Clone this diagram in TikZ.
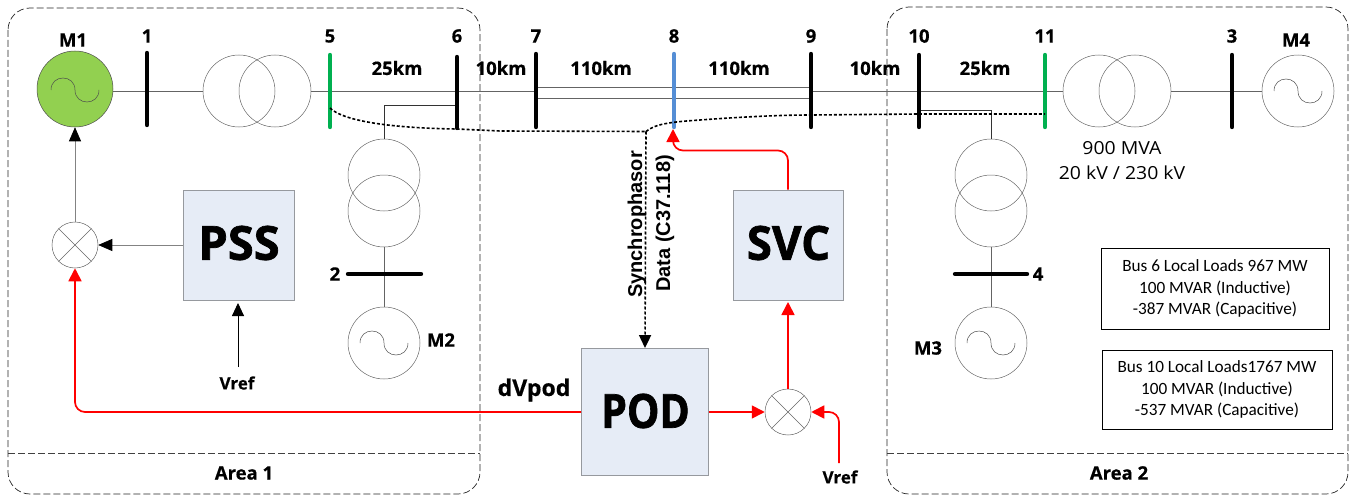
\documentclass[tikz,border=0pt]{standalone}
\usepackage{fontspec}
\setmainfont[BoldFeatures={FakeBold=0.5}]{Open Sans}
\newfontfamily\heavyfont[BoldFeatures={FakeBold=1.5}]{Open Sans}
\newfontfamily\arialfont{Liberation Sans}
\newfontfamily\calfont{Carlito}
\usetikzlibrary{arrows.meta,calc}
\definecolor{boxfill}{RGB}{230,236,246}
\definecolor{boxline}{RGB}{150,153,158}
\definecolor{gline}{RGB}{100,100,100}
\definecolor{mgreen}{RGB}{146,208,80}
\definecolor{bgreen}{RGB}{0,176,80}
\definecolor{bblue}{RGB}{85,142,213}
\tikzset{
  x=1pt,y=-1pt,
  area/.style={draw=black!85,dash pattern=on 7pt off 3pt,line width=.7pt,rounded corners=22pt},
  divider/.style={draw=black!75,dash pattern=on 7pt off 3pt,line width=.7pt},
  wire/.style={draw=gline,line width=.8pt},
  thin wire/.style={draw=black!80,line width=.7pt},
  bus/.style={line width=4.4pt,line cap=round},
  busblack/.style={bus,draw=black},
  circ/.style={circle,draw=black!60,line width=.5pt,inner sep=0pt,minimum size=72pt},
  sumj/.style={circle,draw=black!60,line width=.5pt,inner sep=0pt,minimum size=46pt},
  ctrl/.style={draw=boxline,fill=boxfill,line width=.9pt,inner sep=0pt},
  ctrltext/.style={inner sep=0pt,font=\heavyfont\bfseries\fontsize{47}{49}\selectfont},
  lab/.style={font=\bfseries\fontsize{18.5}{20}\selectfont,inner sep=0pt},
  note/.style={draw=black,line width=.9pt,align=center,inner sep=0pt,font=\calfont\fontsize{17.2}{21.5}\selectfont},
  redl/.style={draw=red,line width=1.7pt,rounded corners=10pt,-{Triangle[length=13pt,width=13pt]}},
  blk/.style={draw=black,line width=.9pt,-{Triangle[length=13pt,width=12pt]}},
  gry/.style={draw=gline!80,line width=.7pt,-{Triangle[length=14pt,width=12pt,color=black,fill=black]}},
  dot/.style={draw=black,line width=1.6pt,dash pattern=on 3pt off 2pt},
}
\newcommand{\sinewave}[1]{%
  \draw[black!70,line width=.5pt] ($(#1)+(-24,0)$) .. controls ($(#1)+(-24,-16)$) and ($(#1)+(0,-16)$) .. (#1) .. controls ($(#1)+(0,16)$) and ($(#1)+(24,16)$) .. ($(#1)+(24,0)$);}
\newcommand{\crossj}[1]{%
  \draw[black!60,line width=.5pt] (#1.45) -- (#1.225) (#1.135) -- (#1.315);}
\begin{document}
\begin{tikzpicture}
\useasboundingbox (0,0) rectangle (1355,495);
% areas
\draw[area] (8,8) rectangle (480,494);
\draw[area] (887,7) rectangle (1348,494);
\coordinate (d1a) at (8,453); \coordinate (d1b) at (480,453);
\coordinate (d2a) at (887,453); \coordinate (d2b) at (1348,453);
\draw[divider] (d1a) -- (d1b);
\draw[divider] (d2a) -- (d2b);
% generators and transformers
\node[circ,fill=mgreen,draw=black!70,minimum size=76pt] (M1) at (75,89) {};
\node[circ] (M4) at (1298,91) {};
\node[circ] (T1a) at (239,91) {};
\node[circ] (T1b) at (275,91) {};
\node[circ] (T4a) at (1099,91) {};
\node[circ] (T4b) at (1135,91) {};
\node[circ] (T2a) at (384,175) {};
\node[circ] (T2b) at (384,211) {};
\node[circ] (M2) at (384,343) {};
\node[circ] (T3a) at (991,175) {};
\node[circ] (T3b) at (991,211) {};
\node[circ] (M3) at (991,343) {};
\sinewave{75,90}
\sinewave{1298,91}
\sinewave{384,343}
\sinewave{991,343}
% main line
\coordinate (b7) at (536,91); \coordinate (b9) at (811,91);
\coordinate (m1e) at (112.5,91);
\draw[wire] (m1e) -- (T1a.west);
\draw[wire] (T1b.east) -- (b7);
\draw[wire] (b9) -- (T4a.west);
\draw[wire] (T4b.east) -- (M4.west);
% double line
\draw[wire] (536,87) -- (811,87);
\draw[wire] (536,98) -- (811,98);
% branch lines
\draw[thin wire] (457,105) -- (384,105) -- (T2a.north);
\draw[wire] (T2b.south) -- (M2.north);
\draw[thin wire] (919,110.5) -- (991,110.5) -- (T3a.north);
\draw[wire] (T3b.south) -- (M3.north);
% buses
\draw[busblack] (147,53) -- (147,125);
\draw[bus,draw=bgreen] (330,55) -- (330,127);
\draw[busblack] (457,57) -- (457,128);
\draw[busblack] (536,54) -- (536,127);
\draw[bus,draw=bblue] (674,54) -- (674,127);
\draw[busblack] (811,54) -- (811,127);
\draw[busblack] (919,55) -- (919,127);
\draw[bus,draw=bgreen] (1045,55) -- (1045,127);
\draw[busblack] (1232,55) -- (1232,127);
\draw[busblack] (348,274) -- (421,274);
\draw[busblack] (955,274) -- (1027,274);
% dotted signal
\coordinate (dj) at (646,131.5);
\draw[dot] (330,108) .. controls (342,120) and (385,128) .. (457,129) -- (500,131) -- (dj);
\draw[dot] (dj) .. controls (655,124) and (670,122) .. (700,120) .. controls (740,117) and (780,115) .. (811,115) -- (919,114) -- (1045,114);
% control boxes
\node[ctrl,minimum width=111pt,minimum height=110pt] (PSS) at (238.5,245) {};
\node[ctrl,minimum width=110pt,minimum height=110pt] (SVC) at (788,245) {};
\node[ctrl,minimum width=127pt,minimum height=127pt] (POD) at (645,412) {};
\node[ctrltext] at (239,243) {PSS};
\node[ctrltext,xscale=.97] at (788.5,243) {SVC};
\node[ctrltext,xscale=.87] at (645.5,411) {POD};
\node[sumj] (S1) at (75,245) {}; \crossj{S1}
\node[sumj] (S2) at (788,412) {}; \crossj{S2}
\coordinate (V1) at (238,367);
\coordinate (V2) at (839,463);
\coordinate (psb) at (238,303);
\coordinate (svb) at (788,302);
% control connectors
\draw[gry] (S1.north) -- (M1.south);
\draw[gry] (PSS.west) -- (S1.east);
\draw[blk] (V1) -- (psb);
\draw[redl] (POD.west) -- (75,412) -- (S1.south);
\draw[redl] (POD.east) -- (S2.west);
\draw[redl] (S2.north) -- (svb);
\draw[redl] (V2) -- (839,412) -- (S2.east);
\draw[redl] (SVC.north) -- (788,150.5) -- (673,150.5) -- (673,129);
\draw[dot,-{Triangle[length=13pt,width=12pt]}] (dj) -- (POD.north);
% labels
\foreach \t/\x/\y in {M1/73/40, 1/147/36, 5/330/36, 6/457/36, 7/536/36, 8/674/36, 9/811/36, 10/919/36, 11/1045/36, 3/1232/36, M4/1296/40, 2/335/274, 4/1038/274, M2/441/340, M3/928/348, 25km/397/68, 10km/501/68, 110km/601/68, 110km/739/68, 10km/875/68, 25km/985/68}
  {\node[lab] at (\x,\y) {\t};}
\node[lab,font=\bfseries\fontsize{17}{18}\selectfont] at (237,383) {Vref};
\node[lab,font=\bfseries\fontsize{17}{18}\selectfont] at (840,477) {Vref};
\node[lab,font=\bfseries\fontsize{23}{24}\selectfont] at (534,390) {dVpod};
\node[lab] at (244,473) {Area 1};
\node[lab] at (1119,473) {Area 2};
\node[lab,rotate=90,font=\arialfont\bfseries\fontsize{20}{22}\selectfont] at (637,224.5) {Synchrophasor};
\node[lab,rotate=90,font=\arialfont\bfseries\fontsize{20}{22}\selectfont] at (665,223.5) {Data (C37.118)};
\node[align=center,inner sep=0pt,xscale=1.08,font=\fontsize{18}{25}\selectfont] at (1122,160.5) {900 MVA\\20 kV / 230 kV};
\node[note,minimum width=228pt,minimum height=81pt] (N1) at (1215,288.5) {Bus 6 Local Loads 967 MW\\100 MVAR (Inductive)\\-387 MVAR (Capacitive)};
\node[note,minimum width=230pt,minimum height=79pt] (N2) at (1217,389.5) {Bus 10 Local Loads1767 MW\\100 MVAR (Inductive)\\-537 MVAR (Capacitive)};
\end{tikzpicture}
\end{document}
